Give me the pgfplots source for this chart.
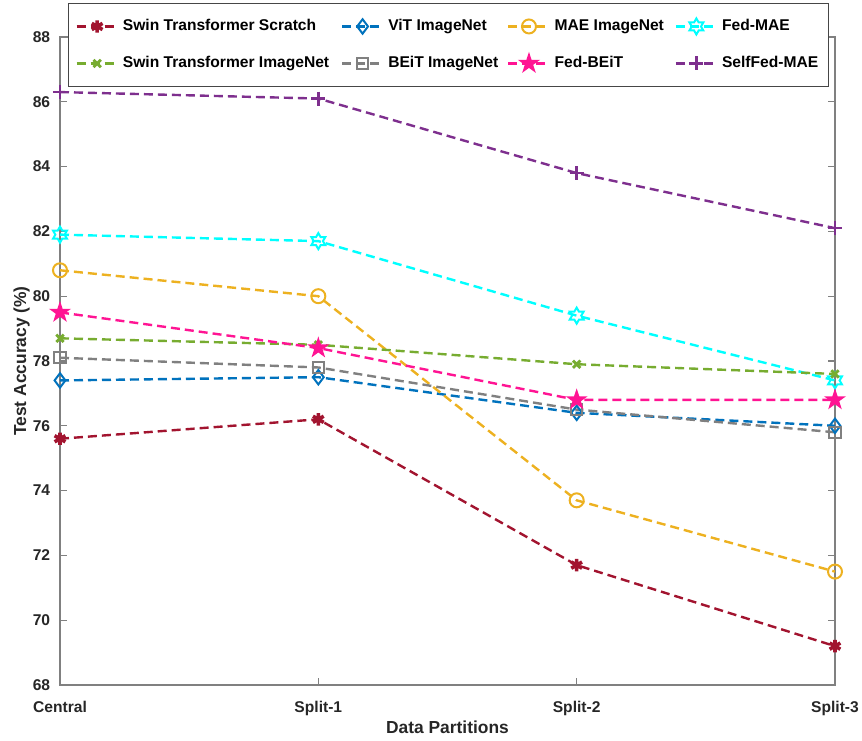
\documentclass[border=0pt]{standalone}
\usepackage{fontspec}
\setmainfont{Liberation Sans}
\usepackage{pgfplots}
\pgfplotsset{compat=1.18}
\usetikzlibrary{plotmarks}

\definecolor{cScratch}{RGB}{162,20,47}
\definecolor{cViT}{RGB}{0,114,189}
\definecolor{cMAE}{RGB}{237,177,32}
\definecolor{cFedMAE}{RGB}{0,255,255}
\definecolor{cSwinIN}{RGB}{119,172,48}
\definecolor{cBEiT}{RGB}{128,128,128}
\definecolor{cFedBEiT}{RGB}{255,20,147}
\definecolor{cSelfFed}{RGB}{126,47,142}
\definecolor{axisgray}{RGB}{128,128,128}
\definecolor{labelgray}{RGB}{38,38,38}
\definecolor{legendgray}{RGB}{70,70,70}

\pgfdeclareplotmark{hexagram}{%
  \pgfpathmoveto{\pgfpointpolar{90}{\pgfplotmarksize}}%
  \pgfpathlineto{\pgfpointpolar{120}{0.577\pgfplotmarksize}}%
  \pgfpathlineto{\pgfpointpolar{150}{\pgfplotmarksize}}%
  \pgfpathlineto{\pgfpointpolar{180}{0.577\pgfplotmarksize}}%
  \pgfpathlineto{\pgfpointpolar{210}{\pgfplotmarksize}}%
  \pgfpathlineto{\pgfpointpolar{240}{0.577\pgfplotmarksize}}%
  \pgfpathlineto{\pgfpointpolar{270}{\pgfplotmarksize}}%
  \pgfpathlineto{\pgfpointpolar{300}{0.577\pgfplotmarksize}}%
  \pgfpathlineto{\pgfpointpolar{330}{\pgfplotmarksize}}%
  \pgfpathlineto{\pgfpointpolar{0}{0.577\pgfplotmarksize}}%
  \pgfpathlineto{\pgfpointpolar{30}{\pgfplotmarksize}}%
  \pgfpathlineto{\pgfpointpolar{60}{0.577\pgfplotmarksize}}%
  \pgfpathclose\pgfusepathqstroke}

\pgfdeclareplotmark{pentagram}{%
  \pgfpathmoveto{\pgfpointpolar{90}{\pgfplotmarksize}}%
  \pgfpathlineto{\pgfpointpolar{126}{0.382\pgfplotmarksize}}%
  \pgfpathlineto{\pgfpointpolar{162}{\pgfplotmarksize}}%
  \pgfpathlineto{\pgfpointpolar{198}{0.382\pgfplotmarksize}}%
  \pgfpathlineto{\pgfpointpolar{234}{\pgfplotmarksize}}%
  \pgfpathlineto{\pgfpointpolar{270}{0.382\pgfplotmarksize}}%
  \pgfpathlineto{\pgfpointpolar{306}{\pgfplotmarksize}}%
  \pgfpathlineto{\pgfpointpolar{342}{0.382\pgfplotmarksize}}%
  \pgfpathlineto{\pgfpointpolar{18}{\pgfplotmarksize}}%
  \pgfpathlineto{\pgfpointpolar{54}{0.382\pgfplotmarksize}}%
  \pgfpathclose\pgfusepathqfillstroke}

\tikzset{myline/.style={line width=1.2pt, dash pattern=on 4.5pt off 2.5pt}}

\begin{document}
\begin{tikzpicture}
\begin{axis}[name=ax, scale only axis, width=387.5pt, height=324pt,
  xmin=0, xmax=3, ymin=68, ymax=88,
  xtick={0,1,2,3}, xticklabels={Central,Split-1,Split-2,Split-3},
  ytick={68,70,...,88},
  tick align=inside, major tick length=3.5pt,
  axis line style={axisgray, line width=0.6pt},
  every tick/.style={axisgray, line width=0.6pt},
  tick label style={font=\fontsize{7.8}{9}\selectfont\bfseries, text=labelgray},
  /pgf/number format/assume math mode=true,
  xticklabel style={yshift=-4.5pt, inner xsep=0pt},
  yticklabel style={xshift=-1.4pt},
  xlabel={Data Partitions}, ylabel={Test Accuracy (\%)},
  label style={font=\fontsize{8.7}{10}\selectfont\bfseries, text=labelgray},
  xlabel style={at={(axis description cs:0.5,-0.045)}, anchor=north},
  ylabel style={at={(axis description cs:-0.030,0.5)}, anchor=south},
  legend columns=4,
  legend cell align=left,
  legend image code/.code={\draw[line width=1.2pt, #1, mark repeat=2, mark phase=2] plot coordinates {(0pt,0pt) (10.25pt,0pt) (20.5pt,0pt)};},
  legend style={at={(axis description cs:0.0103,1.0525)}, anchor=north west,
    draw=legendgray, line width=0.5pt, fill=white, inner xsep=3.5pt, inner ysep=6.75pt,
    column sep=0pt, row sep=9pt, font=\fontsize{7.8}{9}\selectfont\bfseries,
    nodes={inner xsep=2pt, inner ysep=1pt, text height=6pt, text depth=1.5pt}},
]
\addplot[cScratch, myline, mark=asterisk, mark size=3.1pt, mark options={solid, line width=1.8pt}]
  coordinates {(0,75.6) (1,76.2) (2,71.7) (3,69.2)};
\addlegendentry{\makebox[107pt][l]{Swin Transformer Scratch}}
\addplot[cViT, myline, mark=diamond, mark size=3.6pt, mark options={solid, line width=1pt}]
  coordinates {(0,77.4) (1,77.5) (2,76.4) (3,76.0)};
\addlegendentry{\makebox[57.5pt][l]{ViT ImageNet}}
\addplot[cMAE, myline, mark=o, mark size=3.5pt, mark options={solid, line width=1pt}]
  coordinates {(0,80.8) (1,80.0) (2,73.7) (3,71.5)};
\addlegendentry{\makebox[58pt][l]{MAE ImageNet}}
\addplot[cFedMAE, myline, mark=hexagram, mark size=4pt, mark options={solid, line width=1pt}]
  coordinates {(0,81.9) (1,81.7) (2,79.4) (3,77.4)};
\addlegendentry{\makebox[47.5pt][l]{Fed-MAE}}
\addplot[cSwinIN, myline, mark=x, mark size=2.6pt, mark options={solid, line width=1.4pt}]
  coordinates {(0,78.7) (1,78.5) (2,77.9) (3,77.6)};
\addlegendentry{\makebox[107pt][l]{Swin Transformer ImageNet}}
\addplot[cBEiT, myline, mark=square, mark size=2.8pt, mark options={solid, line width=1pt}]
  coordinates {(0,78.1) (1,77.8) (2,76.5) (3,75.8)};
\addlegendentry{\makebox[57.5pt][l]{BEiT ImageNet}}
\addplot[cFedBEiT, myline, mark=pentagram, mark size=4.5pt, mark options={solid, line width=0.8pt, fill=cFedBEiT}]
  coordinates {(0,79.5) (1,78.4) (2,76.8) (3,76.8)};
\addlegendentry{\makebox[58pt][l]{Fed-BEiT}}
\addplot[cSelfFed, myline, mark=+, mark size=3.5pt, mark options={solid, line width=1.2pt}]
  coordinates {(0,86.3) (1,86.1) (2,83.8) (3,82.1)};
\addlegendentry{\makebox[47.5pt][l]{SelfFed-MAE}}
\end{axis}
\path (ax.south west) -- ++(-30pt,-26.5pt);
\path (ax.north east) -- ++(13.5pt,18.5pt);
\end{tikzpicture}
\end{document}
